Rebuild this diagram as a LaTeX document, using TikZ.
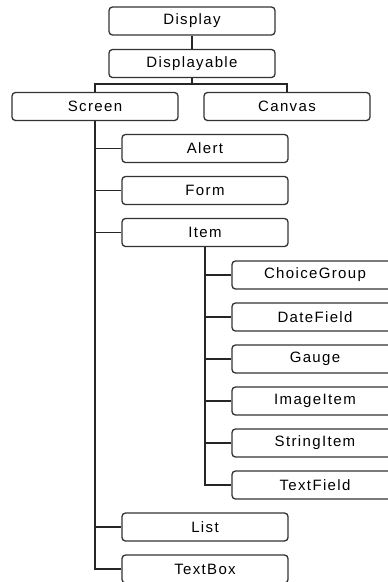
\documentclass[tikz,border=0pt]{standalone}
\usepackage{fontspec}
\setmainfont{Liberation Sans}[LetterSpace=9]
\begin{document}
\begin{tikzpicture}[x=1pt,y=-1pt,
  box/.style={draw=black!80, line width=1.3pt, rounded corners=3.5pt,
    minimum width=166pt, minimum height=28pt, inner sep=0pt, fill=white,
    font=\fontsize{15}{16}\selectfont},
  link/.style={draw=black!85, line width=1.5pt}]
\clip (0,0) rectangle (388,582);
\fill[white] (0,0) rectangle (388,582);
\node[box] (display) at (192,21) {Display};
\node[box] (displayable) at (192,63.5) {Displayable};
\node[box] (screen) at (95,106.5) {Screen};
\node[box] (canvas) at (287,106.5) {Canvas};
\node[box] (alert) at (205,148.5) {Alert};
\node[box] (form) at (205,190.5) {Form};
\node[box] (item) at (205,232.5) {Item};
\node[box] (choice) at (315,275) {ChoiceGroup};
\node[box] (date) at (315,317) {DateField};
\node[box] (gauge) at (315,359) {Gauge};
\node[box] (image) at (315,401) {ImageItem};
\node[box] (string) at (315,443) {StringItem};
\node[box] (textfield) at (315,485) {TextField};
\node[box] (list) at (205,527) {List};
\node[box] (textbox) at (205,569) {TextBox};
\coordinate (j) at (192,84);
\draw[link] (display) -- (displayable);
\draw[link] (displayable.south) -- (j);
\draw[link] (screen.north) |- (j) -| (canvas.north);
\draw[link] (screen.south) |- (textbox.west);
\foreach \c in {alert,form,item,list}
  \draw[link] (screen.south |- \c.west) -- (\c.west);
\draw[link] (item.south) |- (textfield.west);
\foreach \c in {choice,date,gauge,image,string}
  \draw[link] (item.south |- \c.west) -- (\c.west);
\end{tikzpicture}
\end{document}
